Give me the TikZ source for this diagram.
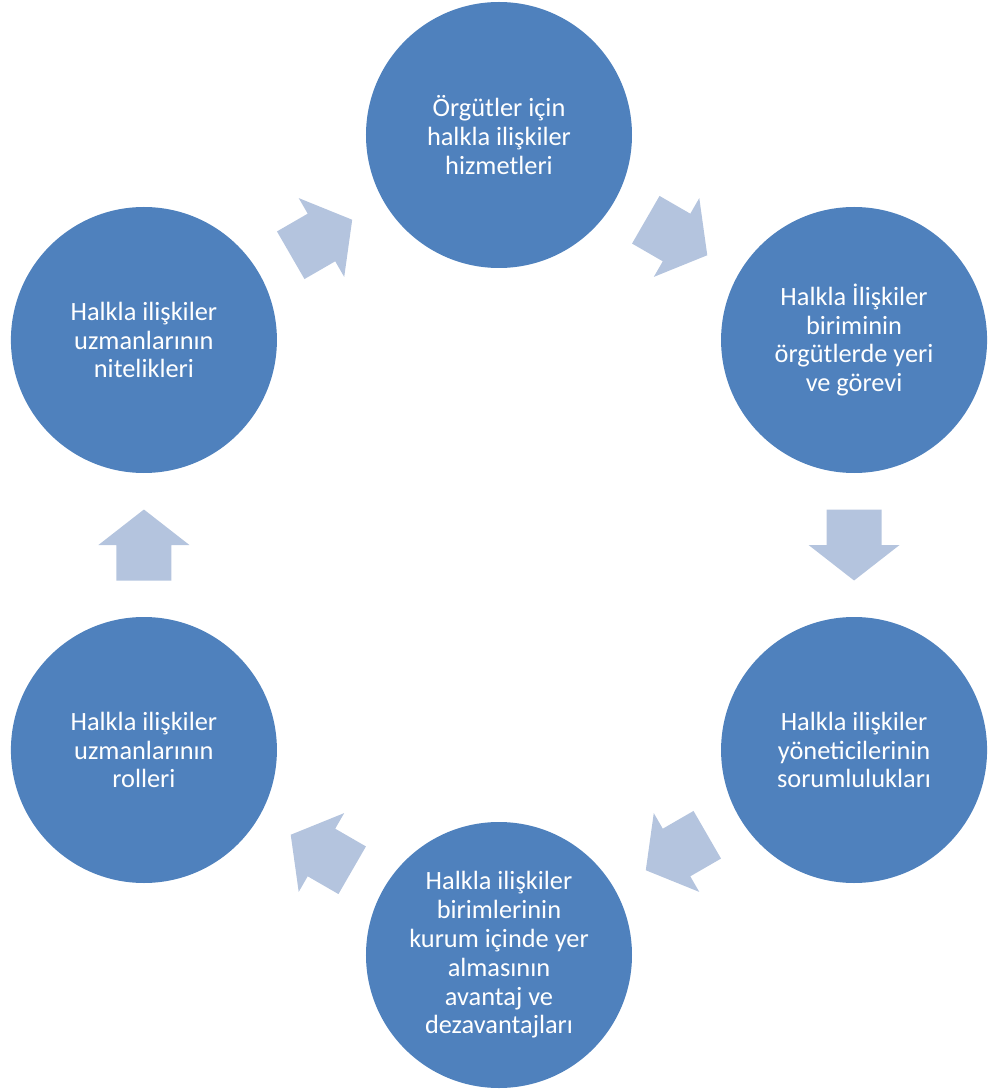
\documentclass[tikz,border=0pt]{standalone}
\usepackage{fontspec}
\setmainfont{Carlito}
\usepackage{tikz}
\usetikzlibrary{positioning,calc}
\usepackage{xcolor}
\definecolor{circleblue}{RGB}{79,129,189}
\definecolor{arrowblue}{RGB}{180,196,222}

% block arrow halfway between two circles: from, to, angle
\newcommand{\cyclearrow}[3]{%
    \fill[arrowblue,shift={($(#1)!0.5!(#2)$)},rotate=#3]
        (-0.71,-0.55) -- (0,-0.55) -- (0,-0.91) -- (0.71,0) -- (0,0.91) -- (0,0.55) -- (-0.71,0.55) -- cycle;}

\begin{document}
\begin{tikzpicture}[
    topic/.style={circle,fill=circleblue,minimum size=5.32cm,inner sep=0pt,text=white,align=center,font=\fontsize{15}{16.4}\selectfont}
    ]
        \useasboundingbox (-9.98,-10.92) rectangle (9.88,10.9);

        % Circles
        \node[topic] (hizmet) at (90:8.2) {Örgütler için\\halkla ilişkiler\\hizmetleri};
        \node[topic] (birim) at (30:8.2) {Halkla İlişkiler\\biriminin\\örgütlerde yeri\\ve görevi};
        \node[topic] (yonetici) at (-30:8.2) {Halkla ilişkiler\\yöneticilerinin\\sorumlulukları};
        \node[topic] (avantaj) at (-90:8.2) {Halkla ilişkiler\\birimlerinin\\kurum içinde yer\\almasının\\avantaj ve\\dezavantajları};
        \node[topic] (rol) at (-150:8.2) {Halkla ilişkiler\\uzmanlarının\\rolleri};
        \node[topic] (nitelik) at (150:8.2) {Halkla ilişkiler\\uzmanlarının\\nitelikleri};

        % Arrows
        \cyclearrow{hizmet}{birim}{-30}
        \cyclearrow{birim}{yonetici}{-90}
        \cyclearrow{yonetici}{avantaj}{-150}
        \cyclearrow{avantaj}{rol}{150}
        \cyclearrow{rol}{nitelik}{90}
        \cyclearrow{nitelik}{hizmet}{30}
    \end{tikzpicture}
\end{document}
